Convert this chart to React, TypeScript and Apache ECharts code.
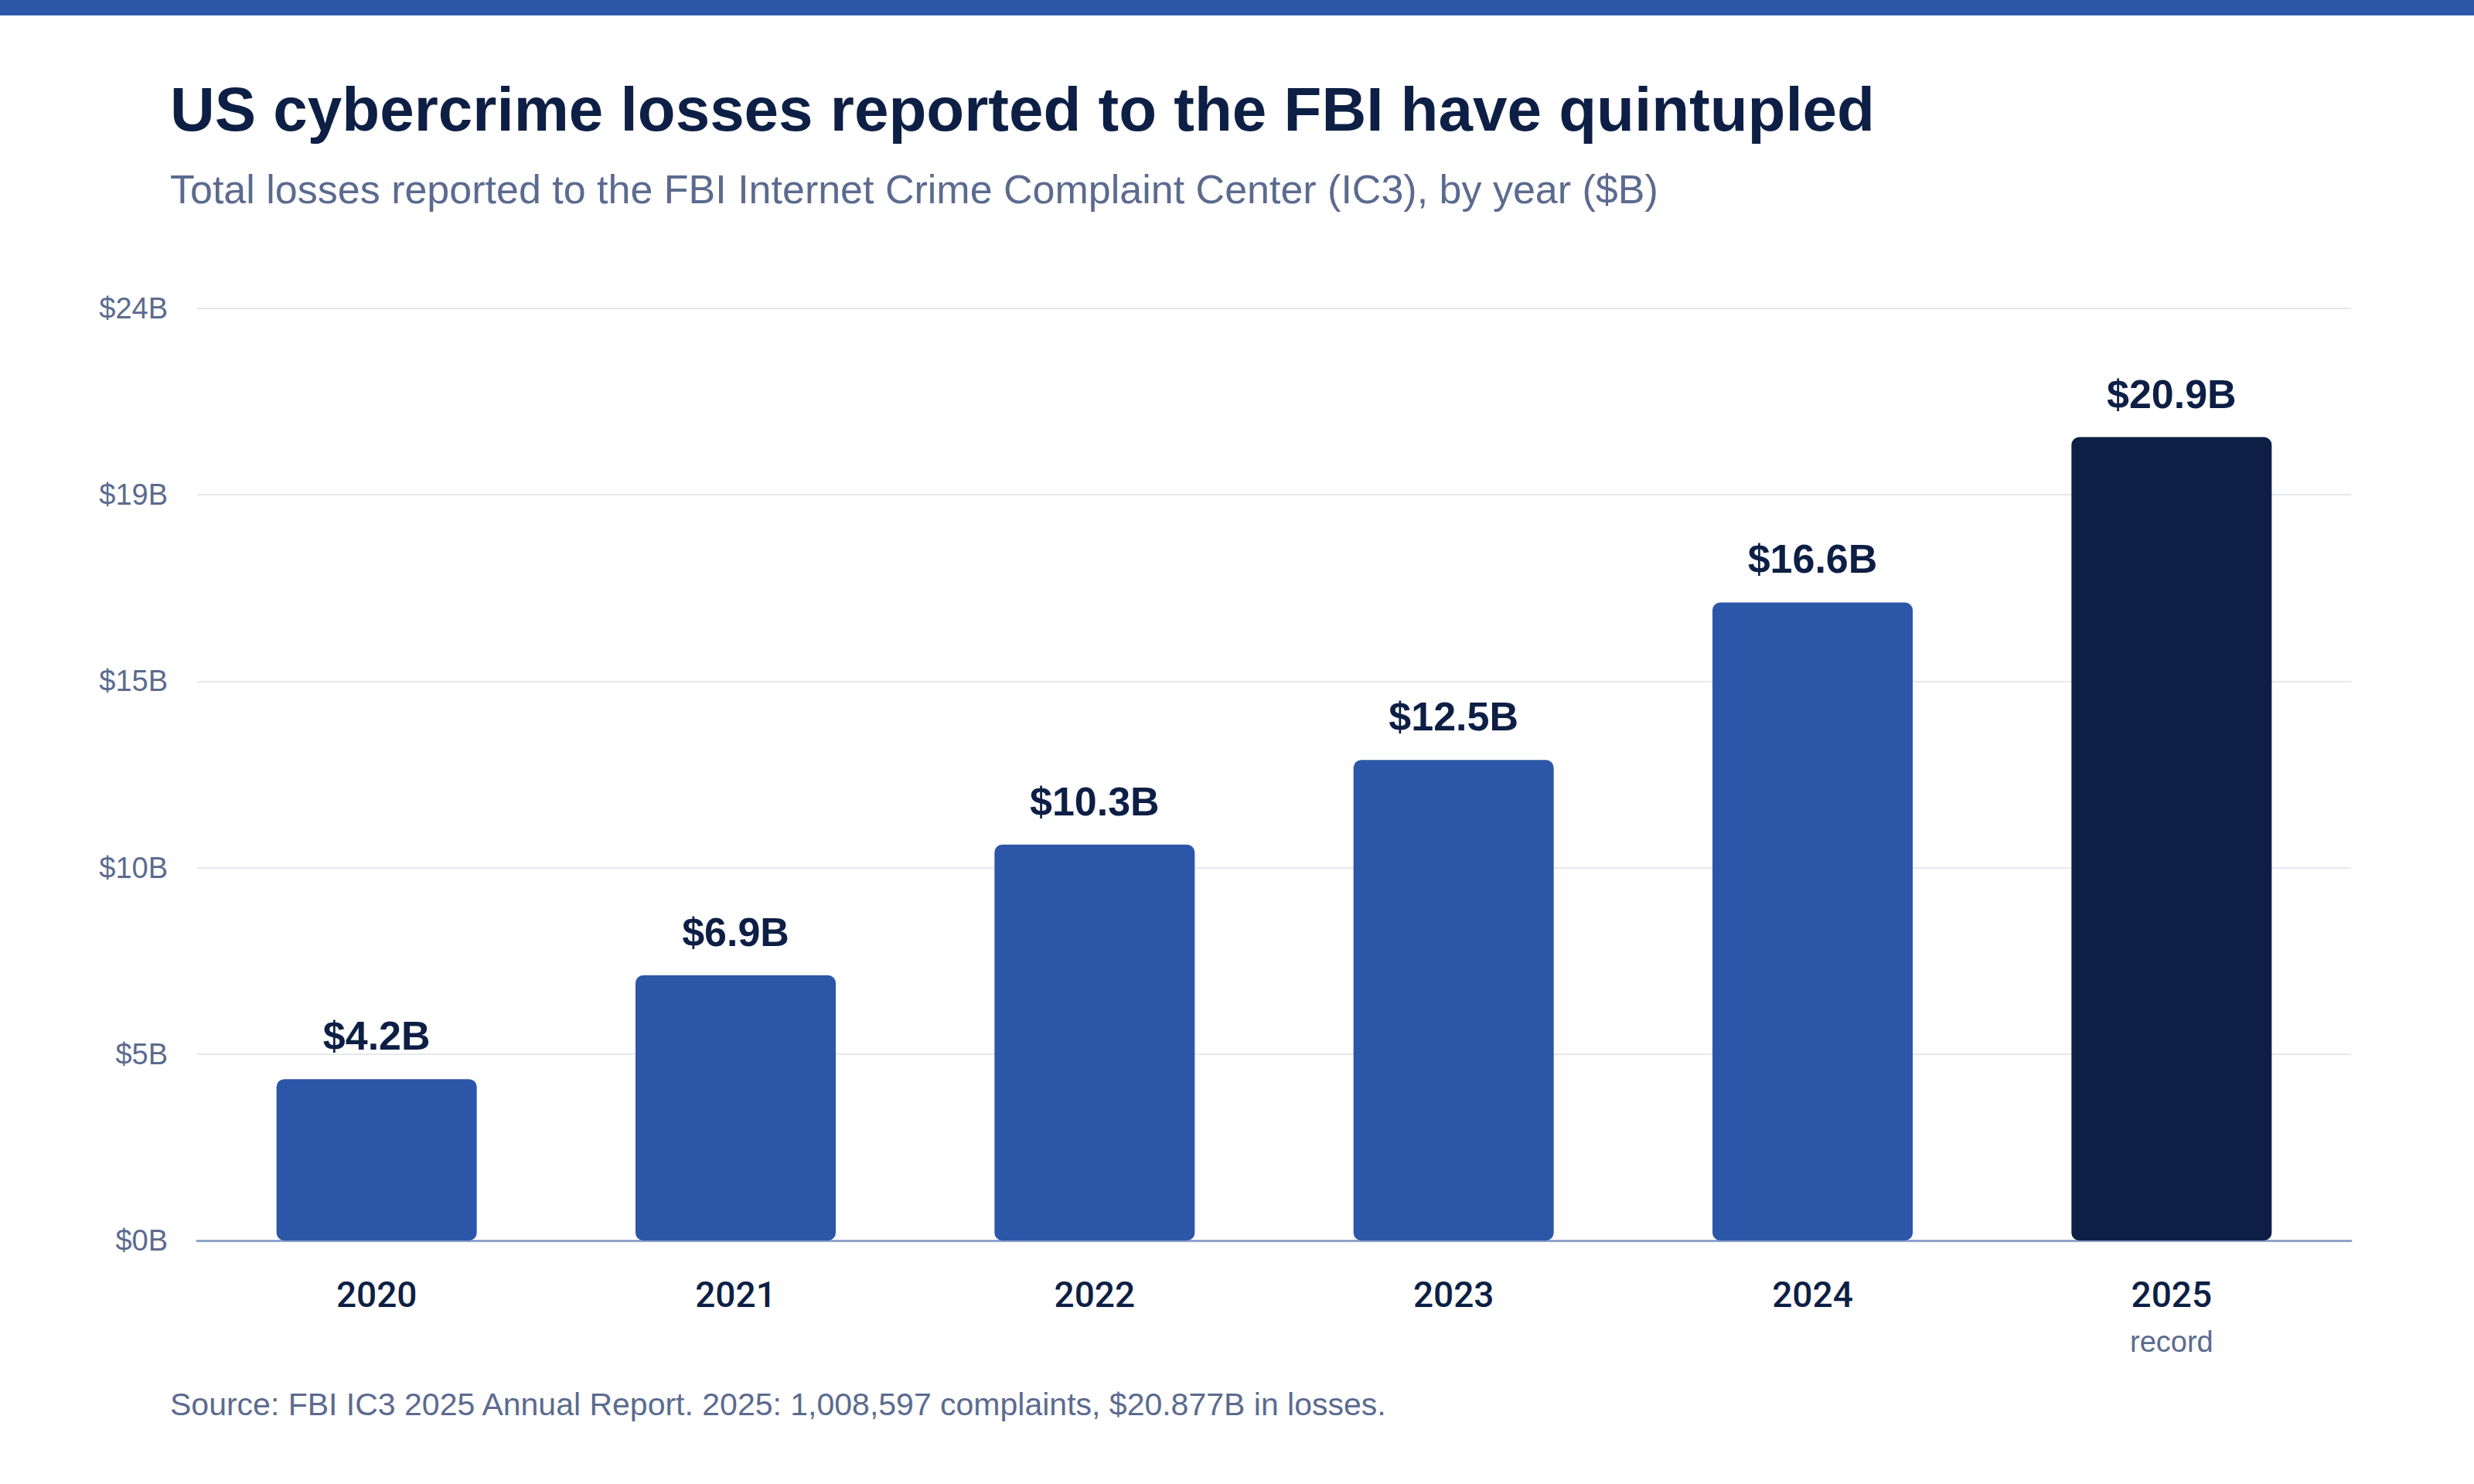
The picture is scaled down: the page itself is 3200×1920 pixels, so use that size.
import React, { useEffect, useRef } from 'react';
import * as echarts from 'echarts';

const years = ['2020', '2021', '2022', '2023', '2024', '2025'];
const losses = [4.2, 6.9, 10.3, 12.5, 16.6, 20.9];
const notes = ['', '', '', '', '', 'record'];
const yTickLabels = ['$0B', '$5B', '$10B', '$15B', '$19B', '$24B'];

const titleText = 'US cybercrime losses reported to the FBI have quintupled';
const subtitleText = 'Total losses reported to the FBI Internet Crime Complaint Center (IC3), by year ($B)';
const sourceText = 'Source: FBI IC3 2025 Annual Report. 2025: 1,008,597 complaints, $20.877B in losses.';

const NAVY = '#0d1f45';
const BLUE = '#2c56a8';
const GREY = '#5b6b8f';
const FONT = '"Liberation Sans", Arial, sans-serif';

const App: React.FC = () => {
    const chartRef = useRef<HTMLDivElement>(null);

    useEffect(() => {
        const chartDom = chartRef.current!;
        const myChart = echarts.init(chartDom, null, { renderer: 'svg' });

        const step = 4.85;

        const option: echarts.EChartsOption = {
            animation: false,
            backgroundColor: '#ffffff',
            textStyle: { fontFamily: FONT },
            title: [
                {
                    text: titleText,
                    left: 220,
                    top: 101,
                    padding: 0,
                    textStyle: { fontFamily: FONT, fontSize: 80, fontWeight: 'bold', color: NAVY },
                },
                {
                    text: subtitleText,
                    left: 220,
                    top: 219,
                    padding: 0,
                    textStyle: { fontFamily: FONT, fontSize: 52, fontWeight: 'normal', color: GREY },
                },
                {
                    text: sourceText,
                    left: 220,
                    top: 1796,
                    padding: 0,
                    textStyle: { fontFamily: FONT, fontSize: 41, fontWeight: 'normal', color: GREY },
                },
            ],
            graphic: [
                {
                    type: 'rect',
                    left: 0,
                    top: 0,
                    shape: { width: 3200, height: 20 },
                    style: { fill: BLUE },
                },
            ],
            grid: { left: 255, right: 159, top: 399, bottom: 315, containLabel: false },
            xAxis: {
                type: 'category',
                data: years,
                axisTick: { show: false },
                axisLine: { lineStyle: { color: '#8ea2cb', width: 3 } },
                axisLabel: {
                    margin: 40,
                    formatter: (v: string, i: number) =>
                        notes[i] ? `{year|${v}}\n{note|${notes[i]}}` : `{year|${v}}`,
                    rich: {
                        year: {
                            fontFamily: 'Roboto, ' + FONT,
                            fontSize: 46,
                            fontWeight: 500,
                            color: NAVY,
                            lineHeight: 60,
                        },
                        note: {
                            fontFamily: FONT,
                            fontSize: 38,
                            color: GREY,
                            lineHeight: 62,
                        },
                    },
                },
            },
            yAxis: {
                type: 'value',
                min: 0,
                max: step * 5,
                interval: step,
                axisLine: { show: false },
                axisTick: { show: false },
                splitLine: { lineStyle: { color: '#e6e8ec', width: 2 } },
                axisLabel: {
                    margin: 38,
                    fontFamily: FONT,
                    fontSize: 38,
                    color: GREY,
                    formatter: (v: number) => yTickLabels[Math.round(v / step)] ?? '',
                },
            },
            series: [
                {
                    type: 'bar',
                    barWidth: 259,
                    data: losses.map((v, i) => ({
                        value: v,
                        itemStyle: { color: i === losses.length - 1 ? NAVY : BLUE, borderRadius: 10 },
                    })),
                    label: {
                        show: true,
                        position: 'top',
                        distance: 30,
                        fontFamily: FONT,
                        fontSize: 52,
                        fontWeight: 'bold',
                        color: NAVY,
                        formatter: (p: any) => `$${p.value}B`,
                    },
                },
            ],
        };

        myChart.setOption(option);

        const resizeObserver = new ResizeObserver(() => {
            myChart.resize();
        });
        resizeObserver.observe(chartDom);

        return () => {
            myChart.dispose();
            resizeObserver.disconnect();
        };
    }, []);

    return (
        <div
            ref={chartRef}
            style={{ position: 'fixed', left: 0, top: 0, width: 3200, height: 1920, background: '#fff' }}
        />
    );
};

export default App;
